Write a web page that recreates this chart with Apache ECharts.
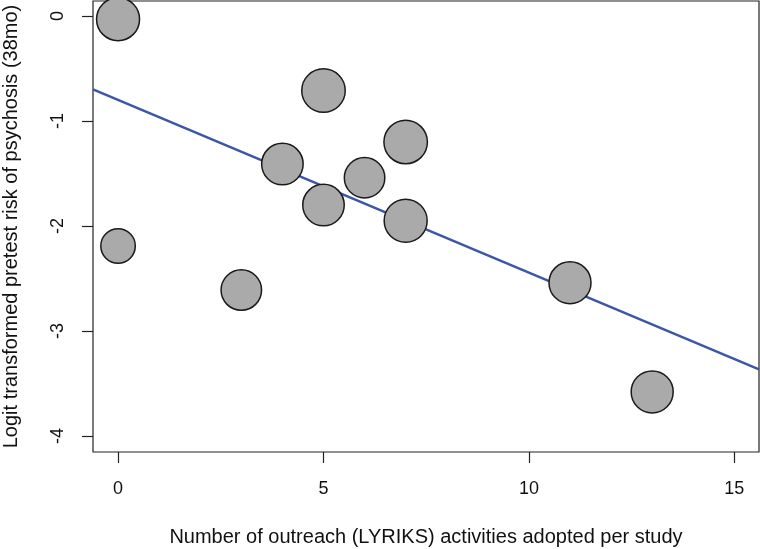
<!DOCTYPE html>
<html>
<head>
<meta charset="utf-8">
<script src="https://cdn.jsdelivr.net/npm/echarts@6/dist/echarts.min.js"></script>
<style>html,body{margin:0;padding:0;background:#fff;}#c{width:760px;height:549px;}</style>
</head>
<body>
<div id="c"></div>
<script>
var activities = [0, 0, 3, 4, 5, 5, 6, 7, 7, 11, 13];
var logitRisk = [-0.03, -2.19, -2.61, -1.41, -0.71, -1.80, -1.54, -1.20, -1.95, -2.54, -3.58];
var bubbleSize = [43, 34.5, 40.5, 41.5, 43.5, 41.5, 40.5, 43.5, 43, 42, 42];
var fitX = [-0.61, 15.6];
var fitY = [-0.698, -3.365];
var xTicks = [0, 5, 10, 15];
var yTicks = [0, -1, -2, -3, -4];

var pts = activities.map(function (x, i) { return [x, logitRisk[i]]; });
var fit = fitX.map(function (x, i) { return [x, fitY[i]]; });
var font = '"Liberation Sans", Arial, Helvetica, sans-serif';

var chart = echarts.init(document.getElementById('c'), null, {renderer: 'canvas'});
chart.setOption({
  animation: false,
  backgroundColor: '#ffffff',
  grid: {left: 93, right: 1, top: 1, bottom: 97, show: true, borderColor: '#222', borderWidth: 1.2,
         backgroundColor: 'transparent', containLabel: false, outerBoundsMode: 'none'},
  xAxis: {
    type: 'value', min: -0.61, max: 15.6,
    splitLine: {show: false},
    axisLine: {show: false, onZero: false},
    axisTick: {show: true, length: 11, inside: false, customValues: xTicks, lineStyle: {color: '#222', width: 1.2}},
    axisLabel: {show: true, customValues: xTicks, margin: 28, fontFamily: font, fontSize: 18, color: '#111'},
    name: 'Number of outreach (LYRIKS) activities adopted per study',
    nameLocation: 'middle', nameGap: 75,
    nameTextStyle: {fontFamily: font, fontSize: 20, color: '#111'}
  },
  yAxis: {
    type: 'value', min: -4.152, max: 0.143,
    splitLine: {show: false},
    axisLine: {show: false, onZero: false},
    axisTick: {show: true, length: 11, inside: false, customValues: yTicks, lineStyle: {color: '#222', width: 1.2}},
    axisLabel: {show: true, customValues: yTicks, rotate: 90, margin: 26, fontFamily: font, fontSize: 18, color: '#111'},
    name: 'Logit transformed pretest risk of psychosis (38mo)',
    nameLocation: 'middle', nameGap: 72,
    nameTextStyle: {fontFamily: font, fontSize: 20, color: '#111'}
  },
  series: [
    {
      type: 'line', data: fit, symbol: 'none', z: 2,
      lineStyle: {color: '#3C56A8', width: 2.5}
    },
    {
      type: 'scatter', data: pts, z: 3,
      symbolSize: function (v, p) { return bubbleSize[p.dataIndex]; },
      itemStyle: {color: '#AAAAAA', borderColor: '#1a1a1a', borderWidth: 1.5, opacity: 1}
    }
  ]
});
</script>
</body>
</html>
